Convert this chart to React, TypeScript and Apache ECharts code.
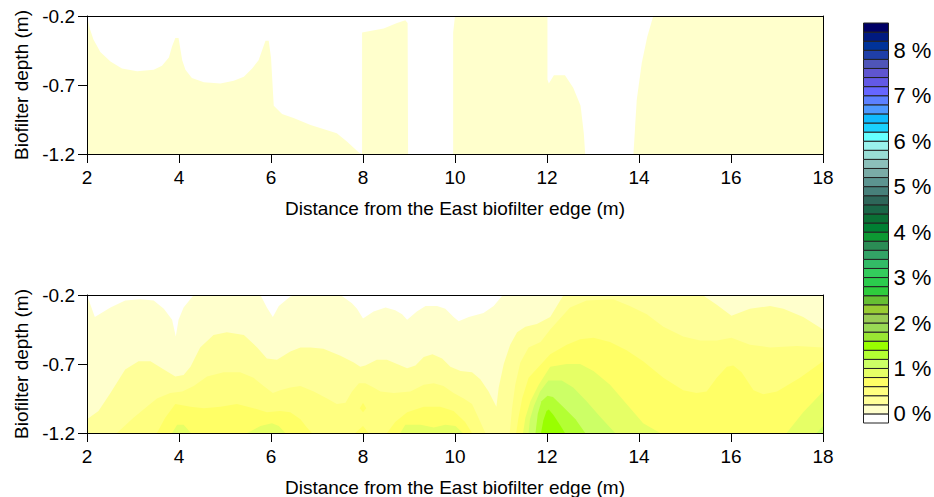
import React, { useEffect, useRef } from "react";
import * as echarts from "echarts";

const FONT = "Liberation Sans";
const yTicks = [-1.2, -0.7, -0.2];
const legendTicks = [0, 1, 2, 3, 4, 5, 6, 7, 8];
const xTitle = "Distance from the East biofilter edge (m)";
const yTitle = "Biofilter depth (m)";

// colour cells of the scale, from the lowest level (-0.2 %) upwards, 0.2 % each
const scaleColors = [
  "#FFFFFF", "#FFFFCC", "#FFFF99", "#FFFF80", "#FFFF66", "#E6FF66", "#CCFF66", "#B3FF33", "#99FF00",
  "#99E633", "#99D955", "#99CC55", "#99CC33", "#66BF33", "#2ECC3D", "#2BCC4D", "#33CC5C", "#33BB66",
  "#33A366", "#2B8C55", "#0D9933", "#008033", "#0A7035", "#1A6647", "#2E6659", "#47807A", "#5C9490",
  "#7AABA6", "#8CC0BA", "#99DDD5", "#99F2EC", "#66FFFF", "#1AD1FF", "#0FBBFF", "#4D99FF", "#5C80FF",
  "#6666FF", "#6359E6", "#5F55D0", "#4F55B8", "#1F3FA8", "#003399", "#001A80", "#000066",
];

type P = [number, number];

// upper plot: 0-0.2 % regions
const topRegionA: P[] = [
  [2, -0.2], [2.06, -0.29], [2.14, -0.37], [2.29, -0.46], [2.51, -0.53], [2.76, -0.58], [3.09, -0.6], [3.45, -0.59],
  [3.63, -0.56], [3.78, -0.5], [3.85, -0.42], [3.92, -0.36], [3.99, -0.36], [4.07, -0.52], [4.14, -0.59], [4.28, -0.65],
  [4.54, -0.68], [4.9, -0.69], [5.19, -0.67], [5.41, -0.64], [5.59, -0.58], [5.73, -0.52], [5.88, -0.38], [5.95, -0.38],
  [6, -0.5], [6.06, -0.85], [6.24, -0.91], [6.49, -0.94], [6.86, -0.99], [7.43, -1.05], [7.65, -1.11], [7.91, -1.19],
  [7.98, -1.2], [2, -1.2],
];
const topRegionB: P[] = [
  [7.98, -0.32], [8.45, -0.29], [8.74, -0.25], [8.92, -0.23], [8.97, -0.25], [8.98, -1.2], [7.98, -1.2],
];
const topRegionC: P[] = [
  [10, -0.2], [9.96, -0.32], [9.96, -1.2], [12.83, -1.2], [12.8, -1.05], [12.73, -0.85], [12.57, -0.72], [12.39, -0.63],
  [12.15, -0.63], [12.04, -0.69], [12.01, -0.66], [12.01, -0.2],
];
const topRegionD: P[] = [
  [14.31, -0.2], [14.18, -0.35], [14.06, -0.54], [13.95, -0.81], [13.88, -1.2], [18, -1.2], [18, -0.2],
];

// lower plot: regions at or above each level
const lowLevel0: P[] = [
  [2, -0.2], [2.17, -0.36], [2.51, -0.29], [2.83, -0.24], [3.16, -0.23], [3.45, -0.24], [3.67, -0.3], [3.85, -0.38],
  [3.93, -0.5], [3.99, -0.38], [4.1, -0.29], [4.32, -0.2], [5.77, -0.2], [5.91, -0.29], [6.04, -0.36], [6.17, -0.28],
  [6.42, -0.21], [6.57, -0.2], [7.51, -0.2], [7.76, -0.26], [7.87, -0.3], [8, -0.37], [8.23, -0.32], [8.49, -0.29],
  [8.7, -0.31], [8.85, -0.34], [8.96, -0.38], [9.17, -0.32], [9.36, -0.28], [9.61, -0.28], [9.79, -0.3], [9.97, -0.36],
  [10.08, -0.39], [10.3, -0.36], [10.62, -0.33], [10.84, -0.28], [11.04, -0.2], [18, -0.2], [18, -1.2], [2, -1.2],
];
const lowLevel1: P[] = [
  [2, -1.1], [2.25, -1.04], [2.51, -0.91], [2.83, -0.74], [3.12, -0.68], [3.38, -0.68], [3.67, -0.74], [3.92, -0.79],
  [4.1, -0.78], [4.25, -0.72], [4.46, -0.58], [4.75, -0.49], [5.04, -0.47], [5.41, -0.49], [5.7, -0.58], [5.91, -0.66],
  [6.13, -0.67], [6.42, -0.61], [6.64, -0.58], [6.86, -0.58], [7.14, -0.59], [7.51, -0.64], [7.8, -0.69], [7.94, -0.72],
  [8.05, -0.71], [8.3, -0.67], [8.52, -0.67], [8.74, -0.7], [8.96, -0.73], [9.14, -0.71], [9.32, -0.65], [9.51, -0.63],
  [9.72, -0.66], [9.9, -0.72], [10.12, -0.75], [10.37, -0.76], [10.55, -0.81], [10.73, -0.9], [10.9, -1.01], [10.95, -0.87],
  [11.06, -0.7], [11.2, -0.56], [11.35, -0.47], [11.53, -0.43], [11.78, -0.41], [12.07, -0.36], [12.36, -0.2], [15.38, -0.2],
  [15.69, -0.27], [16.01, -0.35], [16.41, -0.3], [16.85, -0.28], [17.14, -0.3], [17.57, -0.36], [18, -0.45], [18, -1.2], [2, -1.2],
];
const lowLevel2A: P[] = [
  [2.65, -1.2], [3.01, -1.09], [3.3, -1.01], [3.52, -0.95], [3.81, -0.91], [4.07, -0.9], [4.32, -0.86], [4.61, -0.79],
  [4.97, -0.76], [5.33, -0.76], [5.62, -0.8], [5.84, -0.86], [6.04, -0.91], [6.2, -0.89], [6.42, -0.87], [6.64, -0.86],
  [6.93, -0.9], [7.22, -0.95], [7.43, -0.99], [7.62, -0.98], [7.76, -0.9], [7.91, -0.84], [8.05, -0.84], [8.23, -0.87],
  [8.38, -0.9], [8.67, -0.91], [9.03, -0.9], [9.32, -0.85], [9.54, -0.84], [9.75, -0.86], [9.97, -0.91], [10.19, -0.95],
  [10.37, -0.99], [10.51, -1.09], [10.66, -1.2],
];
const lowLevel2B: P[] = [
  [11.19, -1.2], [11.24, -1.02], [11.31, -0.85], [11.42, -0.69], [11.6, -0.58], [11.86, -0.54], [12.07, -0.45], [12.5, -0.29],
  [12.86, -0.24], [13.44, -0.23], [13.8, -0.28], [14.17, -0.34], [14.53, -0.43], [14.96, -0.5], [15.33, -0.53], [15.69, -0.53],
  [16.01, -0.51], [16.41, -0.56], [16.85, -0.58], [17.43, -0.57], [18, -0.58], [18, -1.2],
];
const lowLevel3A: P[] = [
  [3.52, -1.2], [3.7, -1.09], [3.92, -0.99], [4.25, -1.01], [4.54, -1.02], [4.9, -1.01], [5.26, -0.99], [5.62, -1.02],
  [5.91, -1.05], [6.2, -1.04], [6.42, -1.05], [6.64, -1.1], [6.78, -1.16], [6.89, -1.2],
];
const lowLevel3B: P[] = [[8, -0.98], [8.07, -1.02], [8, -1.05], [7.93, -1.02]];
const lowLevel3C: P[] = [[7.83, -1.2], [8, -1.15], [8.12, -1.2]];
const lowLevel3D: P[] = [
  [8.52, -1.2], [8.7, -1.12], [8.96, -1.05], [9.32, -1.01], [9.68, -1.01], [9.97, -1.04], [10.22, -1.12], [10.37, -1.2],
];
const lowLevel3E: P[] = [
  [11.33, -1.2], [11.38, -1.09], [11.46, -0.95], [11.6, -0.8], [11.82, -0.72], [12.07, -0.63], [12.43, -0.56], [12.72, -0.52],
  [13.01, -0.51], [13.37, -0.54], [13.73, -0.6], [14.09, -0.68], [14.53, -0.8], [14.96, -0.89], [15.25, -0.91], [15.47, -0.9],
  [15.69, -0.8], [15.91, -0.72], [16.05, -0.71], [16.23, -0.76], [16.49, -0.89], [16.7, -0.92], [17, -0.9], [17.5, -0.8],
  [18, -0.68], [18, -1.2],
];
const lowLevel4A: P[] = [[3.85, -1.2], [3.96, -1.14], [4.1, -1.14], [4.26, -1.2]];
const lowLevel4B: P[] = [[5.48, -1.2], [5.77, -1.15], [6.02, -1.13], [6.17, -1.15], [6.31, -1.2]];
const lowLevel4C: P[] = [
  [8.81, -1.2], [8.92, -1.14], [9.25, -1.14], [9.54, -1.16], [9.79, -1.14], [10.01, -1.15], [10.17, -1.2],
];
const lowLevel4D: P[] = [
  [11.48, -1.2], [11.53, -1.09], [11.64, -0.97], [11.82, -0.85], [12.07, -0.72], [12.43, -0.7], [12.72, -0.7], [13.01, -0.75],
  [13.37, -0.85], [13.73, -0.99], [14.09, -1.13], [14.46, -1.2],
];
const lowLevel4E: P[] = [[17.21, -1.2], [17.57, -1.05], [18, -0.9], [18, -1.2]];
const lowLevel5A: P[] = [
  [11.6, -1.2], [11.63, -1.1], [11.72, -1], [11.85, -0.9], [12.03, -0.82], [12.32, -0.82], [12.57, -0.87], [12.86, -0.97], [13.15, -1.08], [13.48, -1.2],
];
const lowLevel5B: P[] = [[17.86, -1.2], [18, -1.15], [18, -1.2]];
const lowLevel6: P[] = [
  [11.75, -1.2], [11.8, -1.06], [11.88, -0.97], [12.01, -0.93], [12.13, -0.94], [12.32, -1], [12.62, -1.1], [12.83, -1.2],
];
const lowLevel7: P[] = [
  [11.87, -1.2], [11.92, -1.11], [11.99, -1.04], [12.04, -1.03], [12.14, -1.07], [12.28, -1.14], [12.39, -1.2],
];

const topBands: [P[], number][] = [
  [topRegionA, 1], [topRegionB, 1], [topRegionC, 1], [topRegionD, 1],
];
const lowBands: [P[], number][] = [
  [lowLevel0, 1], [lowLevel1, 2], [lowLevel2A, 3], [lowLevel2B, 3], [lowLevel3A, 4], [lowLevel3B, 4], [lowLevel3C, 4],
  [lowLevel3D, 4], [lowLevel3E, 4], [lowLevel4A, 5], [lowLevel4B, 5], [lowLevel4C, 5], [lowLevel4D, 5], [lowLevel4E, 5],
  [lowLevel5A, 6], [lowLevel5B, 6], [lowLevel6, 7], [lowLevel7, 8],
];

const textStyle = { fontFamily: FONT, color: "#000" };
const black = { lineStyle: { color: "#000", width: 1 } };

function plotAxes(gridIndex: number) {
  const x = [
    {
      type: "value", gridIndex, min: 2, max: 18, interval: 2, z: 5,
      axisLine: { show: true, ...black }, axisTick: { show: true, length: 9, ...black },
      splitLine: { show: false },
      axisLabel: { ...textStyle, fontSize: 19, margin: 14, showMinLabel: true, showMaxLabel: true },
      name: xTitle, nameLocation: "middle", nameGap: 45, nameTextStyle: { ...textStyle, fontSize: 19 },
    },
    {
      type: "value", gridIndex, min: 2, max: 18, position: "top", z: 5,
      axisLine: { show: true, ...black }, axisTick: { show: false }, axisLabel: { show: false }, splitLine: { show: false },
    },
  ];
  const y = [
    {
      type: "value", gridIndex, min: -1.2, max: -0.2, z: 5,
      axisLine: { show: true, ...black },
      axisTick: { show: true, length: 9, customValues: yTicks, ...black },
      splitLine: { show: false },
      axisLabel: { ...textStyle, fontSize: 19, margin: 12, customValues: yTicks, formatter: (v: number) => v.toFixed(1) },
      name: yTitle, nameLocation: "middle", nameGap: 56, nameRotate: 90, nameTextStyle: { ...textStyle, fontSize: 19 },
    },
    {
      type: "value", gridIndex, min: -1.2, max: -0.2, position: "right", z: 5,
      axisLine: { show: true, ...black }, axisTick: { show: false }, axisLabel: { show: false }, splitLine: { show: false },
    },
  ];
  return { x, y };
}

function regionSeries(bands: [P[], number][], axisBase: number) {
  return bands.map(([pts, level]) => ({
    type: "custom",
    coordinateSystem: "cartesian2d",
    xAxisIndex: axisBase,
    yAxisIndex: axisBase,
    silent: true,
    z: 2,
    data: pts,
    renderItem: (params: any, api: any) =>
      params.dataIndex === 0
        ? {
            type: "polygon",
            shape: { points: pts.map((p) => api.coord(p)) },
            style: { fill: scaleColors[level], stroke: "none" },
          }
        : null,
  }));
}

export default function App() {
  const ref = useRef<HTMLDivElement>(null);
  useEffect(() => {
    document.body.style.margin = "0";
    const chart = echarts.init(ref.current!, undefined, { renderer: "svg" });
    const top = plotAxes(0);
    const low = plotAxes(1);
    const legendData = scaleColors.map((_, i) => [0, 1, -0.2 + i * 0.2, -0.2 + (i + 1) * 0.2, i]);
    chart.setOption({
      animation: false,
      backgroundColor: "#fff",
      grid: [
        { left: 87, top: 16, width: 736, height: 138, outerBoundsMode: "none" },
        { left: 87, top: 295, width: 736, height: 138, outerBoundsMode: "none" },
        { left: 863.5, top: 23, width: 25, height: 400, outerBoundsMode: "none" },
      ],
      xAxis: [
        top.x[0], low.x[0], top.x[1], low.x[1],
        {
          type: "value", gridIndex: 2, min: 0, max: 1, show: false,
        },
      ],
      yAxis: [
        top.y[0], low.y[0], top.y[1], low.y[1],
        {
          type: "value", gridIndex: 2, min: -0.2, max: 8.6, position: "right",
          axisLine: { show: false }, axisTick: { show: false }, splitLine: { show: false },
          axisLabel: {
            ...textStyle, fontSize: 22, margin: 5, customValues: legendTicks,
            formatter: (v: number) => `${v} %`,
          },
        },
      ],
      series: [
        ...regionSeries(topBands, 0),
        ...regionSeries(lowBands, 1),
        {
          type: "custom",
          coordinateSystem: "cartesian2d",
          xAxisIndex: 4,
          yAxisIndex: 4,
          silent: true,
          encode: { x: [0, 1], y: [2, 3] },
          data: legendData,
          renderItem: (_: any, api: any) => {
            const a = api.coord([api.value(0), api.value(3)]);
            const b = api.coord([api.value(1), api.value(2)]);
            return {
              type: "rect",
              shape: { x: a[0], y: a[1], width: b[0] - a[0], height: b[1] - a[1] },
              style: { fill: scaleColors[api.value(4)], stroke: "#222", lineWidth: 1 },
            };
          },
        },
      ],
    });
    return () => chart.dispose();
  }, []);
  return <div ref={ref} style={{ width: 934, height: 497 }} />;
}
